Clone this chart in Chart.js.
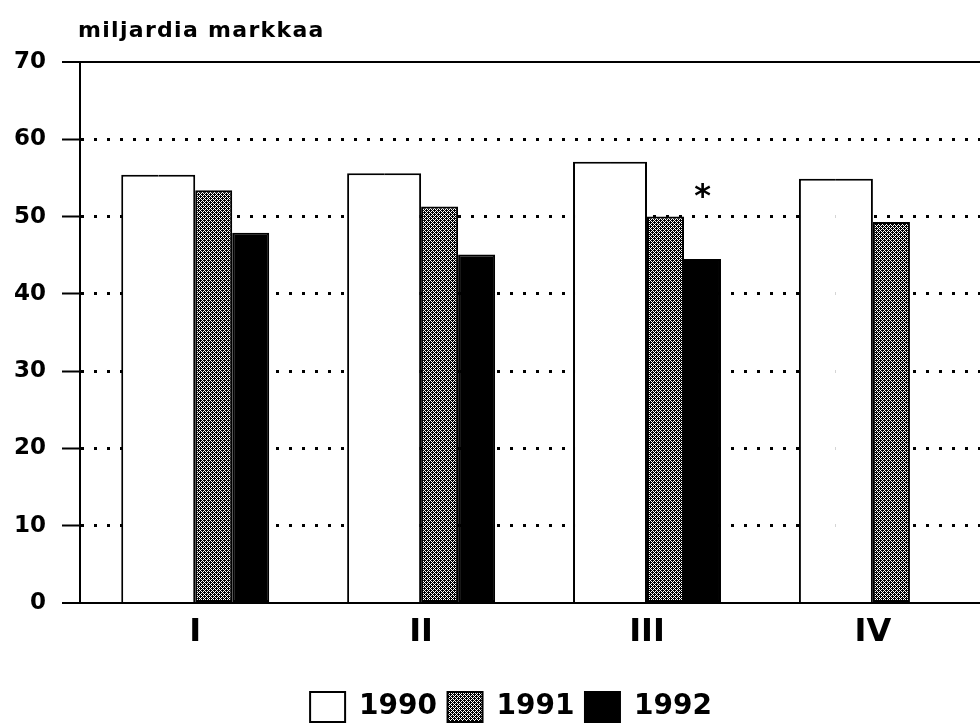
<!DOCTYPE html>
<html>
<head>
<meta charset="utf-8">
<script src="https://cdn.jsdelivr.net/npm/chart.js@4.4.1/dist/chart.umd.min.js"></script>
<style>
    html, body { margin: 0; padding: 0; background: #fff; overflow: hidden; }
    #wrap { width: 980px; height: 728px; overflow: hidden; }
    canvas { display: block; }
</style>
</head>
<body>
<div id="wrap"><canvas id="chart" width="1030" height="732"></canvas></div>
<script>
// --- DATA ---
const categories = ['I', 'II', 'III', 'IV'];
const seriesNames = ['1990', '1991', '1992'];
const values1990 = [55.4, 55.6, 57.1, 54.9];
const values1991 = [53.4, 51.3, 50.0, 49.3];
const values1992 = [47.9, 45.1, 44.5, null];
const yMin = 0;
const yMax = 70;
const yStep = 10;
const unitLabel = 'miljardia markkaa';
const footnoteCategory = 'III';   // asterisk over the 1992 bar

// x range is wider than the window on the right, the picture is cropped there
const xMin = -0.51;
const xMax = 3.66;

const FONT = '"DejaVu Sans", sans-serif';
Chart.defaults.font.family = FONT;
Chart.defaults.color = '#000';

// --- HATCH PATTERN FOR 1991 ---
function makeDots(ctx) {
    const tile = document.createElement('canvas');
    tile.width = 4;
    tile.height = 4;
    const t = tile.getContext('2d');
    t.fillStyle = '#000';
    t.fillRect(0, 0, 4, 4);
    t.fillStyle = '#fff';
    for (let y = 0; y < 4; y++) {
        for (let x = 0; x < 4; x++) {
            if ((x + y) % 2 === 0) t.fillRect(x, y, 1, 1);
        }
    }
    t.fillStyle = '#000';
    t.fillRect(0, 0, 1, 1);
    t.fillRect(2, 2, 1, 1);
    return ctx.createPattern(tile, 'repeat');
}

const canvas = document.getElementById('chart');
const ctx = canvas.getContext('2d');
const dots = makeDots(ctx);
const legendFills = ['#fff', dots, '#000'];

const points = arr => arr.map((v, i) => ({ x: i, y: v }));

// the 1990 bar is twice as wide: drawn as two halves sharing one outline
const datasets = [
    {
        label: seriesNames[0], data: points(values1990),
        backgroundColor: '#fff', borderColor: '#000', borderSkipped: false,
        borderWidth: { top: 2, left: 2, right: 0, bottom: 0 }
    },
    {
        label: seriesNames[0], data: points(values1990),
        backgroundColor: '#fff', borderColor: '#000', borderSkipped: false,
        borderWidth: { top: 2, left: 0, right: 2, bottom: 0 }
    },
    {
        label: seriesNames[1], data: points(values1991),
        backgroundColor: dots, borderColor: '#000', borderWidth: 2, borderSkipped: false
    },
    {
        label: seriesNames[2], data: points(values1992),
        backgroundColor: '#000', borderColor: '#000', borderWidth: 2, borderSkipped: false
    }
];

const isDotted = c => c.tick && c.tick.value > yMin && c.tick.value < yMax;

// unit label above the axis
const unitPlugin = {
    id: 'unitLabel',
    afterDraw(chart) {
        const c = chart.ctx;
        c.save();
        c.font = 'bold 22px ' + FONT;
        c.letterSpacing = '1.3px';
        c.textBaseline = 'alphabetic';
        c.fillStyle = '#000';
        c.fillText(unitLabel, chart.chartArea.left - 2, 37);
        c.restore();
    }
};

// asterisk over the marked bar
const footnotePlugin = {
    id: 'footnote',
    afterDatasetsDraw(chart) {
        const bar = chart.getDatasetMeta(3).data[categories.indexOf(footnoteCategory)];
        if (!bar) return;
        const c = chart.ctx;
        c.save();
        c.font = 'bold 32px ' + FONT;
        c.textAlign = 'center';
        c.textBaseline = 'alphabetic';
        c.fillStyle = '#000';
        c.fillText('*', bar.x, bar.y - 53);
        c.restore();
    }
};

new Chart(ctx, {
    type: 'bar',
    data: { datasets },
    options: {
        responsive: false,
        animation: false,
        devicePixelRatio: 1,
        categoryPercentage: 0.655,
        barPercentage: 1,
        layout: { padding: { top: 62, left: 0, right: 8, bottom: 0 } },
        scales: {
            x: {
                type: 'linear',
                offset: false,
                min: xMin,
                max: xMax,
                ticks: {
                    stepSize: 1,
                    includeBounds: false,
                    padding: 10,
                    maxRotation: 0,
                    autoSkip: false,
                    color: '#000',
                    font: { size: 32, weight: 'bold' },
                    callback: v => categories[v]
                },
                grid: { display: false, drawTicks: false },
                border: { display: true, color: '#000', width: 2 },
                afterFit: s => { s.height = 78.5; }
            },
            y: {
                min: yMin,
                max: yMax,
                ticks: {
                    stepSize: yStep,
                    padding: 16,
                    color: '#000',
                    font: { size: 23, weight: 'bold' }
                },
                grid: {
                    color: '#000',
                    lineWidth: c => isDotted(c) ? 3 : 2,
                    drawTicks: true,
                    tickLength: 18,
                    tickWidth: 2,
                    tickColor: '#000',
                    tickBorderDash: []
                },
                border: {
                    display: true,
                    color: '#000',
                    width: 2,
                    dash: c => isDotted(c) ? [3, 10] : []
                },
                afterFit: s => { s.width = 80; }
            }
        },
        plugins: {
            tooltip: { enabled: false },
            legend: {
                position: 'bottom',
                onClick: null,
                labels: {
                    boxWidth: 35,
                    boxHeight: 30,
                    padding: 10.5,
                    color: '#000',
                    font: { size: 28, weight: 'bold' },
                    generateLabels: () => seriesNames.map((name, i) => ({
                        text: name,
                        fillStyle: legendFills[i],
                        strokeStyle: '#000',
                        lineWidth: 2,
                        fontColor: '#000',
                        hidden: false,
                        datasetIndex: i
                    }))
                }
            }
        }
    },
    plugins: [unitPlugin, footnotePlugin]
});
</script>
</body>
</html>
